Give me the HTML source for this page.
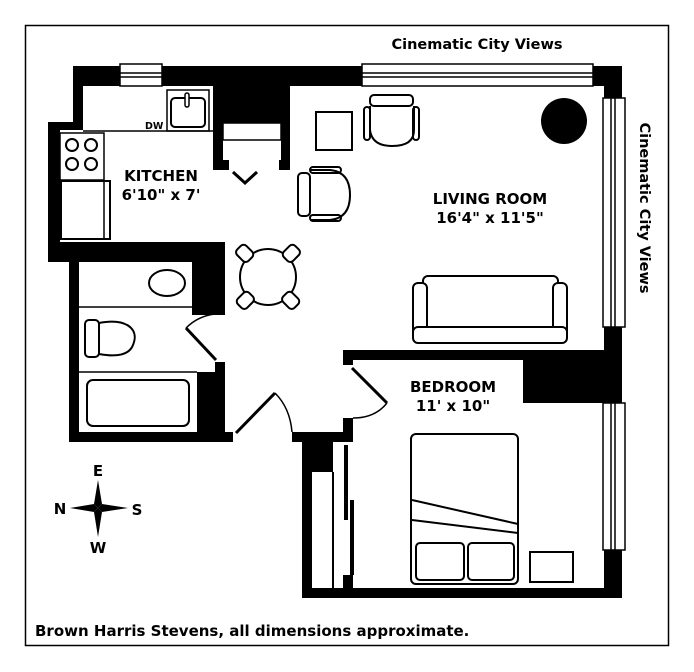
<!DOCTYPE html>
<html><head><style>body{margin:0;background:#fff}svg{display:block}text{font-family:"DejaVu Sans","Liberation Sans",sans-serif;font-weight:bold}</style></head>
<body>
<svg width="694" height="672" viewBox="0 0 694 672" xmlns="http://www.w3.org/2000/svg">
<rect x="25.5" y="25.5" width="643" height="620" fill="none" stroke="#000" stroke-width="1.5"/>
<g fill="#000">
<rect x="73" y="66" width="549" height="20"/>
<rect x="73" y="66" width="10" height="60"/>
<rect x="48" y="122" width="35" height="8"/>
<rect x="48" y="122" width="12" height="130"/>
<rect x="48" y="242" width="177" height="20"/>
<rect x="213" y="66" width="77" height="57"/>
<rect x="213" y="66" width="10" height="104"/>
<rect x="281" y="66" width="9" height="104"/>
<rect x="213" y="160" width="16" height="10"/>
<rect x="279" y="160" width="11" height="10"/>
<rect x="69" y="252" width="10" height="190"/>
<rect x="69" y="432" width="164" height="10"/>
<rect x="192" y="252" width="33" height="63"/>
<rect x="215" y="362" width="10" height="78"/>
<rect x="197" y="372" width="28" height="62"/>
<rect x="604" y="66" width="18" height="532"/>
<rect x="523" y="350" width="99" height="53"/>
<rect x="343" y="350" width="200" height="10"/>
<rect x="343" y="350" width="10" height="15"/>
<rect x="343" y="418" width="10" height="24"/>
<rect x="292" y="432" width="61" height="10"/>
<rect x="302" y="432" width="31" height="40"/>
<rect x="302" y="432" width="10" height="166"/>
<rect x="302" y="588" width="320" height="10"/>
<rect x="343" y="575" width="10" height="15"/>
<rect x="344" y="445" width="4" height="75"/>
<rect x="350" y="500" width="4" height="75"/>
<rect x="332" y="472" width="2" height="116"/>
<circle cx="564" cy="121" r="23"/>
</g>
<g fill="#fff" stroke="#000" stroke-width="1.5">
<rect x="120" y="64" width="42" height="22"/>
<rect x="362" y="64" width="231" height="22"/>
<rect x="603" y="98" width="22" height="229"/>
<rect x="603" y="403" width="22" height="147"/>
</g>
<g stroke="#000" stroke-width="1.5" fill="none">
<line x1="120" y1="73" x2="162" y2="73"/><line x1="120" y1="77" x2="162" y2="77"/>
<line x1="362" y1="73" x2="593" y2="73"/><line x1="362" y1="77" x2="593" y2="77"/>
<line x1="611" y1="98" x2="611" y2="327"/><line x1="615" y1="98" x2="615" y2="327"/>
<line x1="611" y1="403" x2="611" y2="550"/><line x1="615" y1="403" x2="615" y2="550"/>
<line x1="83" y1="131" x2="213" y2="131"/>
<rect x="167" y="90" width="42" height="41"/>
<rect x="171" y="98" width="34" height="29" rx="4" stroke-width="2"/>
<rect x="185" y="93" width="4" height="14" rx="2" fill="#fff"/>
<rect x="60" y="133" width="44" height="47"/>
<circle cx="72" cy="145" r="6" stroke-width="2"/><circle cx="91" cy="145" r="6" stroke-width="2"/>
<circle cx="72" cy="164" r="6" stroke-width="2"/><circle cx="91" cy="164" r="6" stroke-width="2"/>
<rect x="61" y="181" width="49" height="58" stroke-width="2"/>
<line x1="104" y1="181" x2="104" y2="239"/>
<rect x="223" y="123" width="58" height="17" fill="#fff"/>
<polyline points="233,172 245,183 257,172" stroke-width="3"/>
<line x1="79" y1="307" x2="192" y2="307"/>
<line x1="79" y1="372" x2="197" y2="372"/>
<ellipse cx="167" cy="283" rx="18" ry="13" stroke-width="2"/>
<rect x="85" y="320" width="14" height="37" rx="4" stroke-width="2"/>
<path d="M99,323 C125,318 140,328 133,345 C128,358 110,356 99,354" stroke-width="2"/>
<rect x="87" y="380" width="102" height="46" rx="6" stroke-width="2"/>
<line x1="186" y1="328" x2="216" y2="360" stroke-width="3"/>
<path d="M186,328 Q198,316 215,314"/>
<line x1="236" y1="433" x2="275" y2="393" stroke-width="3"/>
<path d="M275,393 Q290,408 292,432"/>
<line x1="352" y1="368" x2="387" y2="403" stroke-width="3"/>
<path d="M387,403 Q375,418 353,418"/>
<rect x="316" y="112" width="36" height="38" stroke-width="2"/>
<path d="M370,106 L370,130 Q372,146 392,146 Q414,146 414,130 L414,106" stroke-width="2"/>
<rect x="370" y="95" width="43" height="11" rx="4" stroke-width="2"/>
<rect x="364" y="107" width="6" height="33" rx="3" stroke-width="2"/>
<rect x="413" y="107" width="6" height="33" rx="3" stroke-width="2"/>
<path d="M310,170 L330,170 Q350,172 350,195 Q350,218 330,220 L310,220" stroke-width="2"/>
<rect x="298" y="173" width="12" height="43" rx="4" stroke-width="2"/>
<rect x="310" y="167" width="31" height="6" rx="3" stroke-width="2"/>
<rect x="310" y="215" width="31" height="6" rx="3" stroke-width="2"/>
<circle cx="268" cy="277" r="28" stroke-width="2"/>
<g stroke-width="2" fill="#fff">
<rect x="237" y="247" width="16" height="13" rx="4" transform="rotate(45 245 253)"/>
<rect x="283" y="247" width="16" height="13" rx="4" transform="rotate(-45 291 253)"/>
<rect x="237" y="294" width="16" height="13" rx="4" transform="rotate(-45 245 300)"/>
<rect x="283" y="294" width="16" height="13" rx="4" transform="rotate(45 291 300)"/>
</g>
<rect x="423" y="276" width="135" height="55" rx="5" stroke-width="2"/>
<rect x="413" y="283" width="14" height="57" rx="5" stroke-width="2" fill="#fff"/>
<rect x="553" y="283" width="14" height="57" rx="5" stroke-width="2" fill="#fff"/>
<rect x="413" y="327" width="154" height="16" rx="5" stroke-width="2" fill="#fff"/>
<rect x="411" y="434" width="107" height="150" rx="5" stroke-width="2"/>
<line x1="412" y1="500" x2="518" y2="524" stroke-width="2"/>
<line x1="412" y1="520" x2="518" y2="533" stroke-width="2"/>
<rect x="416" y="543" width="48" height="37" rx="4" stroke-width="2"/>
<rect x="468" y="543" width="46" height="37" rx="4" stroke-width="2"/>
<rect x="530" y="552" width="43" height="30" stroke-width="2"/>
</g>
<g fill="#000">
<polygon points="98,480 102,504 98,508 94,504"/>
<polygon points="98,537 102,512 98,508 94,512"/>
<polygon points="70,508 94,504 98,508 94,512"/>
<polygon points="128,508 102,504 98,508 102,512"/>
</g>
<text x="98" y="476" font-size="15" text-anchor="middle">E</text>
<text x="98" y="553" font-size="15" text-anchor="middle">W</text>
<text x="60" y="514" font-size="15" text-anchor="middle">N</text>
<text x="137" y="515" font-size="15" text-anchor="middle">S</text>
<text x="477" y="49" font-size="14.5" text-anchor="middle">Cinematic City Views</text>
<text x="640" y="208" font-size="14.5" text-anchor="middle" transform="rotate(90 640 208)">Cinematic City Views</text>
<text x="145" y="129" font-size="9.5">DW</text>
<text x="161" y="181" font-size="15" text-anchor="middle">KITCHEN</text>
<text x="161" y="200" font-size="15" text-anchor="middle">6'10" x 7'</text>
<text x="490" y="204" font-size="15" text-anchor="middle">LIVING ROOM</text>
<text x="490" y="223" font-size="15" text-anchor="middle">16'4" x 11'5"</text>
<text x="453" y="392" font-size="15" text-anchor="middle">BEDROOM</text>
<text x="453" y="411" font-size="15" text-anchor="middle">11' x 10"</text>
<text x="35" y="636" font-size="15">Brown Harris Stevens, all dimensions approximate.</text>
</svg>
</body></html>
